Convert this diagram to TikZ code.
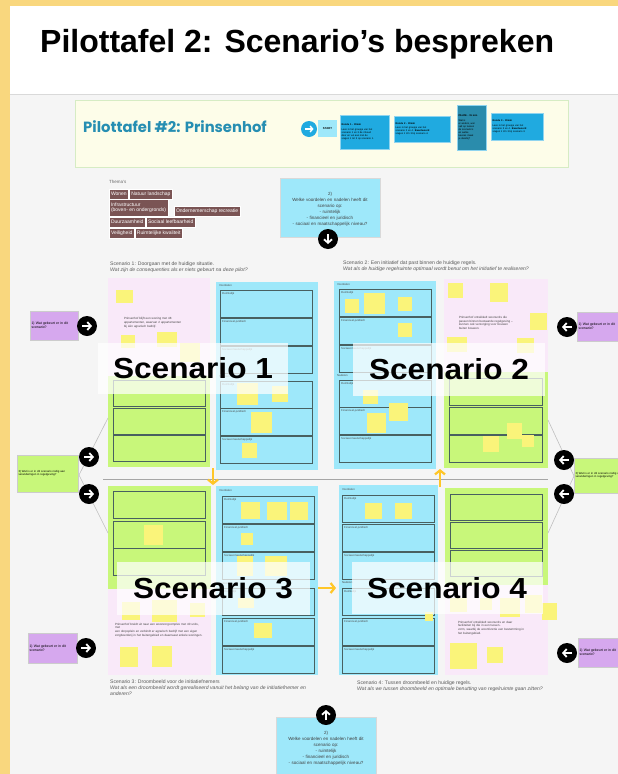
\documentclass[tikz,border=0pt]{standalone}
\usepackage{fontspec}
\setmainfont{Liberation Sans}
\newfontfamily\miro{Poppins}
\usepackage{graphicx}
\usetikzlibrary{positioning,arrows.meta}

\newcommand{\breed}[1]{\scalebox{1.09}[1]{#1}}

\begin{document}
\begin{tikzpicture}[x=1pt,y=-1pt]
	\definecolor{kader}{RGB}{249,215,126}
	\definecolor{bord}{RGB}{245,245,245}
	\definecolor{roze}{RGB}{249,233,249}
	\definecolor{groen}{RGB}{200,247,122}
	\definecolor{cyaan}{RGB}{158,232,250}
	\definecolor{paars}{RGB}{214,168,238}
	\definecolor{geel}{RGB}{250,244,122}
	\definecolor{kopgeel}{RGB}{253,253,233}
	\definecolor{koprand}{RGB}{214,236,196}
	\definecolor{tealtekst}{RGB}{38,142,178}
	\definecolor{blauw}{RGB}{32,170,224}
	\definecolor{donkerblauw}{RGB}{42,140,172}
	\definecolor{bruin}{RGB}{122,84,84}
	\definecolor{pijlgeel}{RGB}{255,198,40}
	\definecolor{vakrand}{RGB}{72,96,96}
	\tikzset{
		blok/.style={anchor=north west, inner sep=0pt, outer sep=0pt},
		vak/.style={draw=vakrand, line width=0.7pt},
		note/.style={fill=geel},
		lbl/.style={anchor=north west, inner sep=0pt,
			font=\fontsize{2.8}{3}\selectfont, text=black!70},
		tag/.style={anchor=north west, fill=bruin, draw=white, line width=0.4pt,
			text=white, inner xsep=1.8pt, inner ysep=1pt, minimum height=9.5pt,
			align=left, font=\fontsize{5}{5.8}\selectfont},
		ronde/.style={blok, fill=blauw, draw=white!50!blauw, line width=0.4pt,
			inner sep=1.5pt, align=left, text=black,
			font=\fontsize{2.5}{3}\selectfont},
		zwart/.style={circle, fill=black, minimum size=20pt, inner sep=0pt},
		witpijl/.style={draw=white, line width=1.8pt,
			-{Straight Barb[length=3.5pt,width=8pt]}},
		gpijl/.style={draw=pijlgeel, line width=2.2pt,
			-{Straight Barb[length=4pt,width=10pt]}},
		lijn/.style={draw=black!25, line width=0.6pt},
		vraag/.style={blok, fill=cyaan, draw=black!15, line width=0.3pt,
			align=center, text=black!75, font=\fontsize{4.5}{6}\selectfont},
		paarsvak/.style={blok, fill=paars, draw=black!20, line width=0.3pt,
			inner sep=1.5pt, align=left, font=\fontsize{3.5}{4.2}\selectfont},
		groenvak/.style={blok, fill=groen, draw=black!20, line width=0.3pt,
			inner sep=1.5pt, align=left, font=\fontsize{2.8}{3.4}\selectfont},
		rozetekst/.style={inner sep=0pt, align=left, text=black!75,
			font=\fontsize{3}{3.8}\selectfont},
		bijschrift/.style={anchor=north west, inner sep=0pt, align=left,
			text=black!65, font=\fontsize{5.1}{6}\selectfont},
		waas/.style={fill=white, fill opacity=0.72},
		groot/.style={inner sep=0pt,
			font=\fontsize{29}{31}\selectfont\bfseries}
	}

	\useasboundingbox (0,0) rectangle (618,774);

	% ======= Kader en titel =======
	\fill[kader] (0,0) rectangle (618,774);
	\fill[white] (10,6) rectangle (618,94);
	\fill[bord] (10,95) rectangle (618,774);
	\draw[black!15, line width=0.8pt] (10,94.5) -- (618,94.5);
	\node[anchor=base west, inner sep=0pt, font=\fontsize{32}{34}\selectfont\bfseries] (titel) at (40,52) {Pilottafel 2: Scenario’s bespreken};

	% ======= Kopbalk Prinsenhof =======
	\node[blok, fill=kopgeel, draw=koprand, line width=0.8pt, minimum width=493pt, minimum height=67pt] (kop) at (75,100) {};
	\node[anchor=west, inner sep=0pt, text=tealtekst, font=\miro\bfseries\fontsize{14.8}{16}\selectfont] (naam) at (83,127) {Pilottafel \#2: Prinsenhof};
	\node[circle, fill=blauw, minimum size=16pt, inner sep=0pt] (startpijl) at (309,129) {};
	\draw[draw=white, line width=1.4pt, -{Straight Barb[length=2.5pt,width=6pt]}] ([xshift=-4.5pt]startpijl.center) -- ([xshift=4.5pt]startpijl.center);
	\node[blok, fill=cyaan, minimum width=19pt, minimum height=17pt, font=\fontsize{2.8}{3}\selectfont\bfseries] (start) at (318,120) {START};
	\node[ronde, text width=46pt, minimum height=34pt] (ronde1) at (340,115) {\textbf{Ronde 1 - 30min}\\[1.5pt]Lees in het groepje van het\\scenario 1 en 3 de inhoud\\door en vul aan met de\\vragen 1 tot 3 op scenario 1.};
	\node[ronde, text width=53pt, minimum height=26pt] (ronde2) at (394,116) {\textbf{Ronde 2 - 30min}\\[1.5pt]Lees in het groepje van het\\scenario 2 en 4. \textbf{Beantwoord}\\vragen 1 t/m 3 bij scenario 4.};
	\node[ronde, fill=donkerblauw, text width=26pt, minimum height=45pt] (pauze) at (457,105) {\textbf{PAUZE - 15 min}\\[1.5pt]Wat is\\er anders, wat\\valt op tussen\\de scenario's\\en welke\\keuzes maak\\je daarbij?};
	\node[ronde, text width=49pt, minimum height=27pt] (ronde3) at (491,113) {\textbf{Ronde 3 - 30min}\\[1.5pt]Lees in het groepje van het\\scenario 3 en 4. \textbf{Beantwoord}\\vragen 1 t/m 3 bij scenario 3.};

	% ======= Thema's =======
	\node[anchor=north west, inner sep=0pt, text=black!60, font=\fontsize{4.5}{5}\selectfont] (themas) at (109,180) {Thema's};
	\node[tag] (wonen) at (109,189) {Wonen};
	\node[tag, right=0.5pt of wonen] (natuur) {Natuur landschap};
	\node[tag, minimum height=17pt] (infra) at (109,199) {Infrastructuur\\(boven- en ondergronds)};
	\node[tag, anchor=south west] (onder) at (174,216) {Ondernemerschap recreatie};
	\node[tag] (duurzaam) at (109,217) {Duurzaamheid};
	\node[tag, right=0.5pt of duurzaam] (sociaal) {Sociaal leefbaarheid};
	\node[tag] (veilig) at (109,228) {Veiligheid};
	\node[tag, right=0.5pt of veilig] (kwaliteit) {Ruimtelijke kwaliteit};

	% ======= Vraag 2 boven =======
	\node[vraag, text width=100pt, minimum height=59pt] (vraagboven) at (280,178) {\\2)\\Welke voordelen en nadelen heeft dit\\scenario op:\\- ruimtelijk\\- financieel en juridisch\\- sociaal en maatschappelijk niveau?};
	\node[zwart] (pijlboven) at (328,239) {};
	\draw[witpijl] ([yshift=5pt]pijlboven.center) -- ([yshift=-5pt]pijlboven.center);

	% ======= Bijschriften =======
	\node[bijschrift] (bs1) at (110,262) {Scenario 1: Doorgaan met de huidige situatie.\\\textit{Wat zijn de consequenties als er niets gebeurt na deze pilot?}};
	\node[bijschrift] (bs2) at (343,261) {Scenario 2: Een initiatief dat past binnen de huidige regels.\\\textit{Wat als de huidige regelruimte optimaal wordt benut om het initiatief te realiseren?}};
	\node[bijschrift] (bs3) at (110,680) {Scenario 3: Droombeeld voor de initiatiefnemers\\\textit{Wat als een droombeeld wordt gerealiseerd vanuit het belang van de initiatiefnemer en}\\\textit{anderen?}};
	\node[bijschrift] (bs4) at (357,681) {Scenario 4: Tussen droombeeld en huidige regels.\\\textit{Wat als we tussen droombeeld en optimale benutting van regelruimte gaan zitten?}};

	% ======= Scenario 1 =======
	\fill[roze] (108,278) rectangle (210,376);
	\fill[groen] (108,376) rectangle (210,467);
	\foreach \y in {380,408,435}{
		\draw[vak] (113,\y) rectangle (205,\y+26);
	}
	\begin{scope}[shift={(216,282)}]
		\fill[cyaan] (0,0) rectangle (102,188);
		\node[lbl] at (3,2) {Voordelen};
		\node[lbl] at (3,93) {Nadelen};
		\foreach \y/\t in {8/Ruimtelijk,36/Financieel-juridisch,64/Sociaal-maatschappelijk,99/Ruimtelijk,126/Financieel-juridisch,154/Sociaal-maatschappelijk}{
			\draw[vak] (4,\y) rectangle (96,\y+27);
			\node[lbl] at (6,\y+2) {\t};
		}
	\end{scope}
	\node[rozetekst, text width=80pt] (tekst1) at (164,323) {Prinsenhof blijft een woning met 48\\appartementen, waarvan 2 appartementen\\bij één agrarisch bedrijf.};
	\fill[note] (116,290) rectangle (133,303);
	\fill[note] (121,335) rectangle (135,348);
	\fill[note] (157,332) rectangle (177,347);
	\fill[note] (180,343) rectangle (200,362);
	\fill[note] (237,383) rectangle (258,405);
	\fill[note] (272,386) rectangle (288,402);
	\fill[note] (251,412) rectangle (272,433);
	\fill[note] (242,443) rectangle (257,458);

	% ======= Scenario 2 =======
	\begin{scope}[shift={(334,281)}]
		\fill[cyaan] (0,0) rectangle (102,188);
		\node[lbl] at (3,2) {Voordelen};
		\node[lbl] at (3,93) {Nadelen};
		\foreach \y/\t in {8/Ruimtelijk,36/Financieel-juridisch,64/Sociaal-maatschappelijk,99/Ruimtelijk,126/Financieel-juridisch,154/Sociaal-maatschappelijk}{
			\draw[vak] (5,\y) rectangle (97,\y+27);
			\node[lbl] at (7,\y+2) {\t};
		}
	\end{scope}
	\fill[roze] (444,279) rectangle (548,372);
	\fill[groen] (444,372) rectangle (548,468);
	\foreach \y in {378,407,435}{
		\draw[vak] (449,\y) rectangle (542,\y+27);
	}
	\node[rozetekst, text width=68pt] (tekst2) at (493,323) {Prinsenhof ontwikkelt woonunits die\\passen binnen bestaande regelgeving --\\kunnen ook verzorging voor bouwen\\buiten bouwen.};
	\fill[note] (345,299) rectangle (359,313);
	\fill[note] (364,293) rectangle (385,314);
	\fill[note] (398,297) rectangle (412,311);
	\fill[note] (398,323) rectangle (412,337);
	\fill[note] (363,390) rectangle (378,404);
	\fill[note] (389,403) rectangle (408,421);
	\fill[note] (367,413) rectangle (386,433);
	\fill[note] (448,283) rectangle (463,298);
	\fill[note] (490,283) rectangle (508,302);
	\fill[note] (530,313) rectangle (547,330);
	\fill[note] (447,337) rectangle (467,352);
	\fill[note] (517,338) rectangle (534,353);
	\fill[note] (507,423) rectangle (522,439);
	\fill[note] (483,436) rectangle (499,452);
	\fill[note] (522,435) rectangle (534,447);

	% ======= Scenario 3 =======
	\fill[groen] (108,486) rectangle (211,589);
	\fill[roze] (108,589) rectangle (211,675);
	\foreach \y in {491,521,548}{
		\draw[vak] (113,\y) rectangle (205,\y+27);
	}
	\begin{scope}[shift={(216,486)}]
		\fill[cyaan] (0,0) rectangle (102,189);
		\node[lbl] at (3,3) {Voordelen};
		\node[lbl] at (3,96) {Nadelen};
		\foreach \y/\t in {10/Ruimtelijk,38/Financieel-juridisch,66/Sociaal-maatschappelijk,102/Ruimtelijk,132/Financieel-juridisch,160/Sociaal-maatschappelijk}{
			\draw[vak] (6,\y) rectangle (98,\y+27);
			\node[lbl] at (8,\y+2) {\t};
		}
	\end{scope}
	\node[rozetekst, text width=88pt] (tekst3) at (159,630) {Prinsenhof breidt uit naar een woonzorgcomplex met 40 units, met\\een dorpsplein en verbindt er agrarisch bedrijf met een eigen\\zorgboerderij in het buitengebied en daarnaast enkele woningen.};
	\fill[note] (144,525) rectangle (163,545);
	\fill[note] (122,602) rectangle (140,620);
	\fill[note] (152,600) rectangle (177,622);
	\fill[note] (190,603) rectangle (205,617);
	\fill[note] (120,647) rectangle (138,667);
	\fill[note] (152,646) rectangle (172,667);
	\fill[note] (241,502) rectangle (260,519);
	\fill[note] (267,502) rectangle (287,520);
	\fill[note] (290,502) rectangle (308,520);
	\fill[note] (241,533) rectangle (253,545);
	\fill[note] (237,556) rectangle (253,576);
	\fill[note] (265,556) rectangle (287,576);
	\fill[note] (238,598) rectangle (254,608);
	\fill[note] (254,623) rectangle (272,638);

	% ======= Scenario 4 =======
	\begin{scope}[shift={(339,485)}]
		\fill[cyaan] (0,0) rectangle (99,190);
		\node[lbl] at (3,3) {Voordelen};
		\node[lbl] at (3,96) {Nadelen};
		\foreach \y/\t in {10/Ruimtelijk,39/Financieel-juridisch,67/Sociaal-maatschappelijk,103/Ruimtelijk,133/Financieel-juridisch,161/Sociaal-maatschappelijk}{
			\draw[vak] (3,\y) rectangle (95,\y+27);
			\node[lbl] at (5,\y+2) {\t};
		}
	\end{scope}
	\fill[groen] (445,488) rectangle (548,585);
	\fill[roze] (445,585) rectangle (548,675);
	\foreach \y in {494,522,550}{
		\draw[vak] (450,\y) rectangle (542,\y+26);
	}
	\node[rozetekst, text width=74pt] (tekst4) at (495,628) {Prinsenhof ontwikkelt woonunits en daar\\faciliteiten bij die in een tussen-\\vorm, waarbij de woonfunctie een bestemming in\\het buitengebied.};
	\fill[note] (365,503) rectangle (382,519);
	\fill[note] (395,503) rectangle (412,519);
	\fill[note] (425,612) rectangle (433,621);
	\fill[note] (450,598) rectangle (467,612);
	\fill[note] (480,598) rectangle (492,610);
	\fill[note] (500,598) rectangle (520,617);
	\fill[note] (525,595) rectangle (542,613);
	\fill[note] (542,603) rectangle (557,620);
	\fill[note] (450,643) rectangle (477,669);
	\fill[note] (487,647) rectangle (503,663);

	% ======= Middenlijn en gele pijlen =======
	\coordinate (mlinks) at (103,479);
	\coordinate (mrechts) at (548,479);
	\draw[draw=black!35, line width=1pt] (mlinks) -- (mrechts);
	\coordinate (neer1) at (213,468);
	\coordinate (neer2) at (213,485);
	\draw[gpijl] (neer1) -- (neer2);
	\coordinate (op1) at (440,487);
	\coordinate (op2) at (440,469);
	\draw[gpijl] (op1) -- (op2);
	\coordinate (rechts1) at (318,588);
	\coordinate (rechts2) at (336,588);
	\draw[gpijl] (rechts1) -- (rechts2);

	% ======= Zijvakken links =======
	\coordinate (lb) at (108,418);
	\coordinate (lm) at (79,475);
	\coordinate (lo) at (108,533);
	\draw[lijn] (lb) -- (lm) -- (lo);
	\node[paarsvak, text width=45pt, minimum height=29pt] (wat1) at (30,311) {1) Wat gebeurt er in dit\\scenario?};
	\node[paarsvak, text width=46pt, minimum height=30pt] (wat3) at (28,633) {1) Wat gebeurt er in dit\\scenario?};
	\node[groenvak, text width=58pt, minimum height=37pt] (nodig1) at (17,455) {3) Wat is er in dit scenario nodig aan\\veranderingen in regelgeving?};
	\node[zwart] (c1) at (87,326) {};
	\draw[witpijl] ([xshift=-5pt]c1.center) -- ([xshift=5pt]c1.center);
	\node[zwart] (c3) at (86,648) {};
	\draw[witpijl] ([xshift=-5pt]c3.center) -- ([xshift=5pt]c3.center);
	\node[zwart] (cl1) at (89,457) {};
	\draw[witpijl] ([xshift=-5pt]cl1.center) -- ([xshift=5pt]cl1.center);
	\node[zwart] (cl2) at (89,494) {};
	\draw[witpijl] ([xshift=-5pt]cl2.center) -- ([xshift=5pt]cl2.center);

	% ======= Zijvakken rechts =======
	\coordinate (rb) at (548,420);
	\coordinate (rm) at (574,476);
	\coordinate (ro) at (548,533);
	\draw[lijn] (rb) -- (rm) -- (ro);
	\node[paarsvak, text width=48pt, minimum height=29pt] (wat2) at (577,312) {1) Wat gebeurt er in dit\\scenario?};
	\node[paarsvak, text width=48pt, minimum height=29pt] (wat4) at (578,638) {1) Wat gebeurt er in dit\\scenario?};
	\node[groenvak, text width=58pt, minimum height=35pt] (nodig2) at (574,458) {3) Wat is er in dit scenario nodig aan\\veranderingen in regelgeving?};
	\node[zwart] (c2) at (567,327) {};
	\draw[witpijl] ([xshift=5pt]c2.center) -- ([xshift=-5pt]c2.center);
	\node[zwart] (c4) at (567,653) {};
	\draw[witpijl] ([xshift=5pt]c4.center) -- ([xshift=-5pt]c4.center);
	\node[zwart] (cr1) at (564,460) {};
	\draw[witpijl] ([xshift=5pt]cr1.center) -- ([xshift=-5pt]cr1.center);
	\node[zwart] (cr2) at (564,494) {};
	\draw[witpijl] ([xshift=5pt]cr2.center) -- ([xshift=-5pt]cr2.center);

	% ======= Vraag 2 onder =======
	\node[vraag, text width=100pt, minimum height=60pt] (vraagonder) at (276,717) {\\2)\\Welke voordelen en nadelen heeft dit\\scenario op:\\- ruimtelijk\\- financieel en juridisch\\- sociaal en maatschappelijk niveau?};
	\node[zwart] (pijlonder) at (326,715) {};
	\draw[witpijl] ([yshift=-5pt]pijlonder.center) -- ([yshift=5pt]pijlonder.center);

	% ======= Scenario-labels =======
	\fill[waas] (98,343) rectangle (288,394);
	\node[groot] (label1) at (193,368) {\breed{Scenario 1}};
	\fill[waas] (353,343) rectangle (545,396);
	\node[groot] (label2) at (449,369) {\breed{Scenario 2}};
	\fill[waas] (117,562) rectangle (310,615);
	\node[groot] (label3) at (213,588) {\breed{Scenario 3}};
	\fill[waas] (352,562) rectangle (543,614);
	\node[groot] (label4) at (447,588) {\breed{Scenario 4}};

\end{tikzpicture}
\end{document}
